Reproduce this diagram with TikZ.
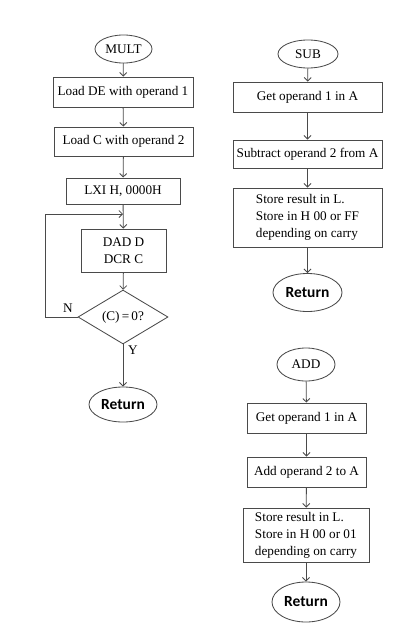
\documentclass[tikz,border=0pt]{standalone}
\usepackage{fontspec}
\setmainfont{Liberation Serif}
\newfontfamily\retfont{Carlito}
\usetikzlibrary{shapes.geometric,arrows.meta}
\definecolor{flowline}{HTML}{4A4A4A}

\begin{document}
\begin{tikzpicture}[x=0.025cm,y=-0.025cm,>={Straight Barb[length=2.5pt,width=5pt]},
  every node/.style={font=\fontsize{9.4}{12}\selectfont},
  box/.style={draw=flowline,line width=0.6pt,inner sep=1pt,align=center},
  term/.style={draw=flowline,line width=0.6pt,ellipse,inner sep=0pt},
  ret/.style={term,font=\retfont\bfseries\fontsize{11}{13}\selectfont},
  link/.style={->,flowline,line width=0.6pt}]
\useasboundingbox (0,0) rectangle (416,637);
\node[term,minimum width=1.425cm,minimum height=0.7cm] (mult) at (123.5,49) {MULT};
\node[box,minimum width=3.5cm,minimum height=0.75cm] (m1) at (123,92) {Load DE with operand 1};
\node[box,minimum width=3.475cm,minimum height=0.725cm] (m2) at (123.5,141.5) {Load C with operand 2};
\node[box,minimum width=2.85cm,minimum height=0.65cm] (m3) at (123,191) {LXI H, 0000H};
\node[box,minimum width=2.125cm,minimum height=1.075cm] (m4) at (123.5,250.5) {DAD D\\DCR C};
\node[draw=flowline,line width=0.6pt,diamond,inner sep=0pt,minimum width=2.25cm,minimum height=1.25cm] (dec) at (123,317) {(C)\,=\,0?};
\node[ret,minimum width=1.7cm,minimum height=0.875cm] (ret1) at (123,404.5) {Return};
\node (nlab) at (68,308) {N};
\node (ylab) at (133,350) {Y};
\coordinate (lp) at (45,214);
\coordinate (join) at (123,214);
\draw[link] (mult) -- (m1);
\draw[link] (m1) -- (m2);
\draw[link] (m2) -- (m3);
\draw[link] (m3) -- (m4);
\draw[link] (m4) -- (dec);
\draw[link] (dec) -- (ret1);
\draw[link] (dec.west) -| (lp) -- (join);
\node[term,minimum width=1.5cm,minimum height=0.7cm] (sub) at (308,54) {SUB};
\node[box,minimum width=3.725cm,minimum height=0.75cm] (s1) at (307.5,97) {Get operand 1 in A};
\node[box,minimum width=3.725cm,minimum height=0.7cm] (s2) at (307.5,154) {Subtract operand 2 from A};
\node[box,align=left,minimum width=3.725cm,minimum height=1.475cm] (s3) at (307.5,217.5) {Store result in L.\\Store in H 00 or FF\\depending on carry};
\node[ret,minimum width=1.725cm,minimum height=0.95cm] (ret2) at (307.5,292.5) {Return};
\draw[link] (sub) -- (s1);
\draw[link] (s1) -- (s2);
\draw[link] (s2) -- (s3);
\draw[link] (s3) -- (ret2);
\node[term,minimum width=1.45cm,minimum height=0.825cm] (add) at (306,364.5) {ADD};
\node[box,minimum width=2.975cm,minimum height=0.75cm] (a1) at (306.5,418) {Get operand 1 in A};
\node[box,minimum width=2.975cm,minimum height=0.75cm] (a2) at (306.5,472) {Add operand 2 to A};
\node[box,align=left,minimum width=3.15cm,minimum height=1.35cm] (a3) at (306,535) {Store result in L.\\Store in H 00 or 01\\depending on carry};
\node[ret,minimum width=1.7cm,minimum height=1.0cm] (ret3) at (306,602) {Return};
\draw[link] (add) -- (a1);
\draw[link] (a1) -- (a2);
\draw[link] (a2) -- (a3);
\draw[link] (a3) -- (ret3);
\end{tikzpicture}
\end{document}
